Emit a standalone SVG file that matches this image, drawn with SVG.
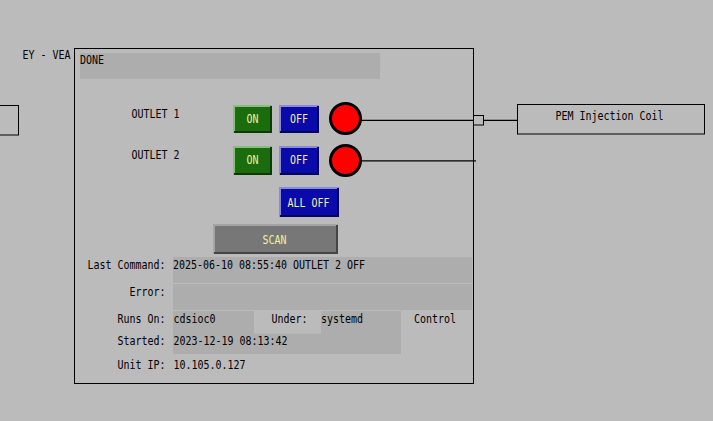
<svg xmlns="http://www.w3.org/2000/svg" width="713" height="421" viewBox="0 0 713 421">
<defs>
<style>
text{font-family:"DejaVu Sans Mono","Liberation Mono",monospace;font-size:12px;fill:#000}
.bt{fill:#f0f0a0}
.field{fill:#adadad}
.box{fill:none;stroke:#000;stroke-width:1}
.on{fill:#1a6c0c}
.onl{fill:none;stroke:#86bf7c;stroke-width:2}
.ond{fill:none;stroke:#0c3a06;stroke-width:2}
.off{fill:#0a0aaa}
.offl{fill:none;stroke:#8a8ad8;stroke-width:2}
.offd{fill:none;stroke:#05055a;stroke-width:2}
.led{fill:#ff0000;stroke:#000;stroke-width:3}
.wire{stroke:#000;stroke-width:1.3;fill:none}
</style>
</defs>
<rect width="713" height="421" fill="#bbbbbb"/>

<g id="label-eyvea"><text x="22.5" y="59" textLength="48" lengthAdjust="spacingAndGlyphs">EY - VEA</text></g>
<g id="left-box"><rect class="box" x="-2" y="105.5" width="20.5" height="29.5"/></g>

<g id="panel">
<rect class="box" x="74.5" y="48.5" width="399" height="335"/>
<rect class="field" x="80" y="53" width="300" height="26"/>
<text x="80" y="64" textLength="24" lengthAdjust="spacingAndGlyphs">DONE</text>
</g>

<g id="outlet1-label"><text x="131.5" y="118" textLength="48" lengthAdjust="spacingAndGlyphs">OUTLET 1</text></g>
<g id="outlet2-label"><text x="131.5" y="159" textLength="48" lengthAdjust="spacingAndGlyphs">OUTLET 2</text></g>

<g id="on1">
<rect class="on" x="233" y="105" width="39" height="28"/>
<polyline class="onl" points="234,133 234,106 272,106"/>
<polyline class="ond" points="234,132 271,132 271,106"/>
<text class="bt" x="252.5" y="122.5" text-anchor="middle" textLength="12" lengthAdjust="spacingAndGlyphs">ON</text>
</g>
<g id="off1">
<rect class="off" x="279" y="105" width="40" height="28"/>
<polyline class="offl" points="280,133 280,106 319,106"/>
<polyline class="offd" points="280,132 318,132 318,106"/>
<text class="bt" x="299" y="122.5" text-anchor="middle" textLength="18" lengthAdjust="spacingAndGlyphs">OFF</text>
</g>
<g id="on2">
<rect class="on" x="233" y="146" width="39" height="29"/>
<polyline class="onl" points="234,175 234,147 272,147"/>
<polyline class="ond" points="234,174 271,174 271,147"/>
<text class="bt" x="252.5" y="163.5" text-anchor="middle" textLength="12" lengthAdjust="spacingAndGlyphs">ON</text>
</g>
<g id="off2">
<rect class="off" x="279" y="146" width="40" height="29"/>
<polyline class="offl" points="280,175 280,147 319,147"/>
<polyline class="offd" points="280,174 318,174 318,147"/>
<text class="bt" x="299" y="163.5" text-anchor="middle" textLength="18" lengthAdjust="spacingAndGlyphs">OFF</text>
</g>

<g id="led1"><circle class="led" cx="345.5" cy="118.5" r="15"/></g>
<g id="led2"><circle class="led" cx="345.5" cy="160.5" r="15"/></g>

<g id="alloff">
<rect class="off" x="279" y="187" width="60" height="30"/>
<polyline class="offl" points="280,217 280,188 339,188"/>
<polyline class="offd" points="280,216 338,216 338,188"/>
<text class="bt" x="308.5" y="206.5" text-anchor="middle" textLength="42" lengthAdjust="spacingAndGlyphs">ALL OFF</text>
</g>

<g id="scan">
<rect x="213" y="224" width="125" height="29.5" fill="#777777"/>
<polyline points="214,254 214,225 338,225" fill="none" stroke="#a4a4a4" stroke-width="2"/>
<polyline points="214,253 337,253 337,225" fill="none" stroke="#454545" stroke-width="2"/>
<text class="bt" x="274.5" y="243.5" text-anchor="middle" textLength="24" lengthAdjust="spacingAndGlyphs">SCAN</text>
</g>

<g id="pem-coil">
<rect class="box" x="517.5" y="104.5" width="187" height="29.5"/>
<text x="555.5" y="119.5" textLength="108" lengthAdjust="spacingAndGlyphs">PEM Injection Coil</text>
</g>

<g id="connectors">
<line class="wire" x1="361" y1="120.3" x2="473.5" y2="120.3"/>
<rect class="box" x="473.5" y="115.5" width="10" height="9.5"/>
<line class="wire" x1="483.5" y1="120.3" x2="517.5" y2="120.3"/>
<line class="wire" x1="361" y1="160.8" x2="476" y2="160.8"/>
</g>

<g id="status">
<rect class="field" x="173" y="257" width="299" height="26"/>
<rect class="field" x="173" y="284" width="299" height="26"/>
<rect class="field" x="173" y="311" width="228" height="43"/>
<rect x="254" y="311" width="67" height="22.5" fill="#bbbbbb"/>
<text x="87.5" y="268.5" textLength="78" lengthAdjust="spacingAndGlyphs">Last Command:</text>
<text x="173" y="268.5" textLength="192" lengthAdjust="spacingAndGlyphs">2025-06-10 08:55:40 OUTLET 2 OFF</text>
<text x="129.5" y="296" textLength="36" lengthAdjust="spacingAndGlyphs">Error:</text>
<text x="117.5" y="322.5" textLength="48" lengthAdjust="spacingAndGlyphs">Runs On:</text>
<text x="173.5" y="322.5" textLength="42" lengthAdjust="spacingAndGlyphs">cdsioc0</text>
<text x="271.5" y="322.5" textLength="36" lengthAdjust="spacingAndGlyphs">Under:</text>
<text x="321" y="322.5" textLength="42" lengthAdjust="spacingAndGlyphs">systemd</text>
<text x="414" y="322.5" textLength="42" lengthAdjust="spacingAndGlyphs">Control</text>
<text x="117.5" y="345" textLength="48" lengthAdjust="spacingAndGlyphs">Started:</text>
<text x="173.5" y="345" textLength="114" lengthAdjust="spacingAndGlyphs">2023-12-19 08:13:42</text>
<text x="117.5" y="368.5" textLength="48" lengthAdjust="spacingAndGlyphs">Unit IP:</text>
<text x="173.5" y="368.5" textLength="72" lengthAdjust="spacingAndGlyphs">10.105.0.127</text>
</g>
</svg>
